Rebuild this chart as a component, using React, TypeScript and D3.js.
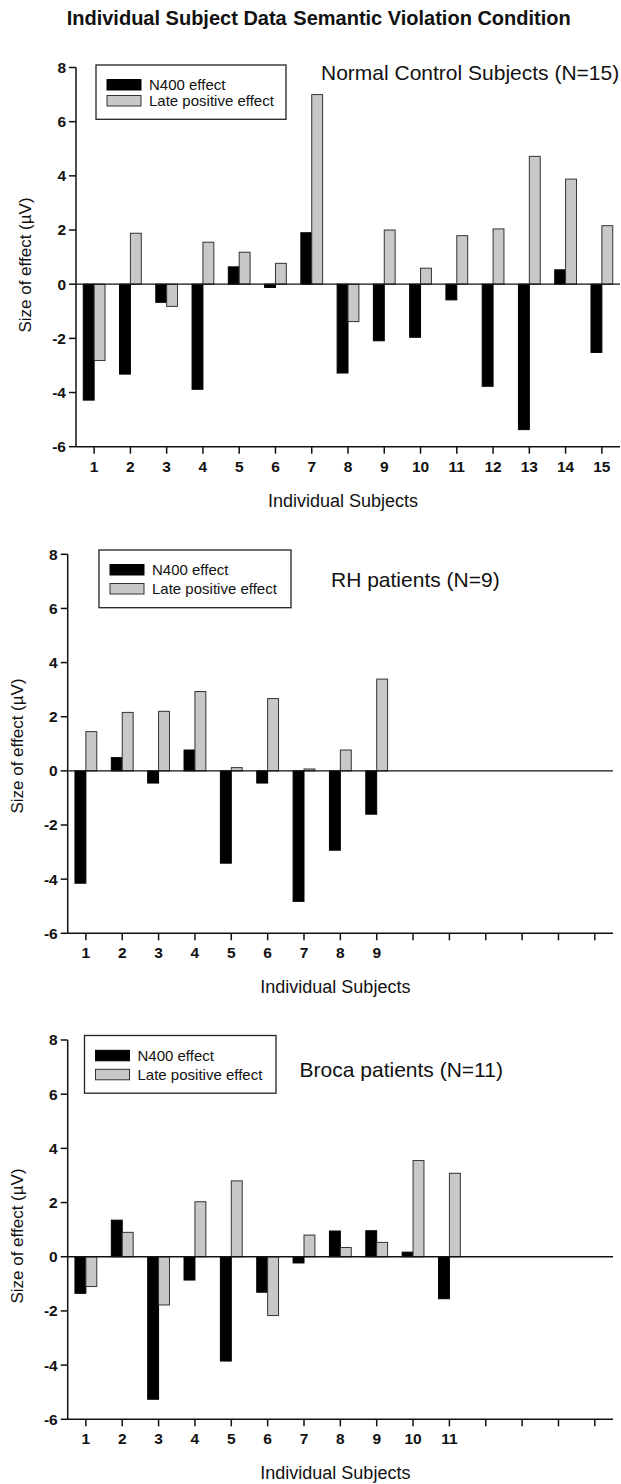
import React from "react";
import * as d3 from "d3";

// ---------- data ----------
const subjectLabels = ["1","2","3","4","5","6","7","8","9","10","11","12","13","14","15"];
const yTickValues = [-6, -4, -2, 0, 2, 4, 6, 8];
const seriesNames = ["N400 effect", "Late positive effect"];

const controlN400 = [-4.28, -3.32, -0.67, -3.88, 0.64, -0.12, 1.9, -3.28, -2.09, -1.96, -0.58, -3.77, -5.37, 0.53, -2.52];
const controlLate = [-2.82, 1.88, -0.82, 1.55, 1.18, 0.77, 7.0, -1.38, 2.0, 0.59, 1.79, 2.04, 4.72, 3.88, 2.16];

const rhN400 = [-4.15, 0.49, -0.45, 0.77, -3.41, -0.45, -4.82, -2.93, -1.6];
const rhLate = [1.45, 2.16, 2.2, 2.93, 0.12, 2.67, 0.07, 0.77, 3.39];

const brocaN400 = [-1.35, 1.35, -5.26, -0.86, -3.85, -1.31, -0.23, 0.95, 0.96, 0.17, -1.55];
const brocaLate = [-1.1, 0.9, -1.78, 2.03, 2.8, -2.17, 0.8, 0.34, 0.53, 3.55, 3.08];

const mainTitleA = "Individual Subject Data";
const mainTitleB = "Semantic Violation Condition";
const panelTitles = ["Normal Control Subjects (N=15)", "RH patients (N=9)", "Broca patients (N=11)"];
const xAxisTitle = "Individual Subjects";
const yAxisTitle = "Size of effect (\u00b5V)";

// ---------- layout ----------
const FONT = "'Liberation Sans', Arial, Helvetica, sans-serif";

const panels = [
  {
    n400: controlN400, late: controlLate, title: panelTitles[0],
    left: 76, right: 620, top: 67.5, bottom: 446.7,
    legend: { x: 96, y: 65, w: 190, h: 54.3, r1: 25, r2: 41 },
    titleX: 321, titleY: 80, yLabX: 31, yLabY: 265,
  },
  {
    n400: rhN400, late: rhLate, title: panelTitles[1],
    left: 67.7, right: 613, top: 554.3, bottom: 933.3,
    legend: { x: 99, y: 550, w: 192, h: 57.7, r1: 25, r2: 44 },
    titleX: 331, titleY: 587, yLabX: 22.5, yLabY: 746,
  },
  {
    n400: brocaN400, late: brocaLate, title: panelTitles[2],
    left: 67.7, right: 613, top: 1040, bottom: 1419.3,
    legend: { x: 84.5, y: 1035.5, w: 191.5, h: 57.7, r1: 25.3, r2: 44.3 },
    titleX: 299.6, titleY: 1076.5, yLabX: 22.5, yLabY: 1236,
  },
];

const AXIS_COLOR = "#111";
const GRAY = "#c8c8c8";

function Panel({ p }: { p: typeof panels[number] }) {
  const x = d3.scaleBand<string>().domain(subjectLabels).range([p.left, p.right]).padding(0);
  const y = d3.scaleLinear().domain([-6, 8]).range([p.bottom, p.top]);
  const bw = x.bandwidth() * 0.3;
  const center = (s: string) => (x(s) as number) + x.bandwidth() / 2;
  const y0 = y(0);
  const L = p.legend;

  return (
    <g>
      {/* bars */}
      {p.n400.map((v, i) => {
        const s = subjectLabels[i];
        const cx = center(s);
        return (
          <rect key={"n" + i} x={cx - bw} y={Math.min(y(v), y0)} width={bw} height={Math.abs(y(v) - y0)}
            fill="#000" stroke="#000" strokeWidth={1} />
        );
      })}
      {p.late.map((v, i) => {
        const s = subjectLabels[i];
        const cx = center(s);
        return (
          <rect key={"l" + i} x={cx} y={Math.min(y(v), y0)} width={bw} height={Math.abs(y(v) - y0)}
            fill={GRAY} stroke="#333" strokeWidth={1} />
        );
      })}
      {/* zero line */}
      <line x1={p.left} x2={p.right} y1={y0} y2={y0} stroke={AXIS_COLOR} strokeWidth={1.3} />
      {/* y axis */}
      <line x1={p.left} x2={p.left} y1={y(8)} y2={y(-6)} stroke={AXIS_COLOR} strokeWidth={1.5} />
      {yTickValues.map((t) => (
        <g key={"yt" + t}>
          <line x1={p.left - 7} x2={p.left} y1={y(t)} y2={y(t)} stroke={AXIS_COLOR} strokeWidth={1.5} />
          <text x={p.left - 10} y={y(t)} dy="0.35em" textAnchor="end" fontFamily={FONT}
            fontWeight="bold" fontSize={15.5} fill="#111">{t}</text>
        </g>
      ))}
      {/* x axis */}
      <line x1={p.left} x2={p.right} y1={y(-6)} y2={y(-6)} stroke={AXIS_COLOR} strokeWidth={1.5} />
      {subjectLabels.map((s, i) => (
        <g key={"xt" + s}>
          <line x1={center(s)} x2={center(s)} y1={y(-6)} y2={y(-6) + 7} stroke={AXIS_COLOR} strokeWidth={1.5} />
          {i < p.n400.length && (
            <text x={center(s)} y={y(-6) + 25} textAnchor="middle" fontFamily={FONT}
              fontWeight="bold" fontSize={15.5} fill="#111">{s}</text>
          )}
        </g>
      ))}
      <text x={(p.left + p.right) / 2 - 5} y={y(-6) + 60} textAnchor="middle" fontFamily={FONT}
        fontSize={18} fill="#111">{xAxisTitle}</text>
      <text transform={`translate(${p.yLabX},${p.yLabY}) rotate(-90)`} textAnchor="middle" fontFamily={FONT}
        fontSize={17} fill="#111">{yAxisTitle}</text>
      {/* legend */}
      <rect x={L.x} y={L.y} width={L.w} height={L.h} fill="#fff" stroke="#222" strokeWidth={1.3} />
      <rect x={L.x + 11} y={L.y + L.r1 - 10.5} width={34} height={10.5} fill="#000" stroke="#000" strokeWidth={1} />
      <rect x={L.x + 11} y={L.y + L.r2 - 10.5} width={34} height={10.5} fill={GRAY} stroke="#333" strokeWidth={1} />
      <text x={L.x + 53} y={L.y + L.r1} fontFamily={FONT} fontSize={15} fill="#111">{seriesNames[0]}</text>
      <text x={L.x + 53} y={L.y + L.r2} fontFamily={FONT} fontSize={15} fill="#111">{seriesNames[1]}</text>
      {/* panel title */}
      <text x={p.titleX} y={p.titleY} fontFamily={FONT} fontSize={21} fill="#111">{p.title}</text>
    </g>
  );
}

export default function App() {
  return (
    <svg width={621} height={1484} viewBox="0 0 621 1484"
      style={{ position: "absolute", left: 0, top: 0, background: "#fff" }}>
      <rect x={0} y={0} width={621} height={1484} fill="#fff" />
      <text x={66.7} y={25} fontFamily={FONT} fontWeight="bold" fontSize={20} fill="#111">{mainTitleA}</text>
      <text x={293.3} y={25} fontFamily={FONT} fontWeight="bold" fontSize={20} fill="#111">{mainTitleB}</text>
      {panels.map((p, i) => (
        <Panel key={i} p={p} />
      ))}
    </svg>
  );
}
